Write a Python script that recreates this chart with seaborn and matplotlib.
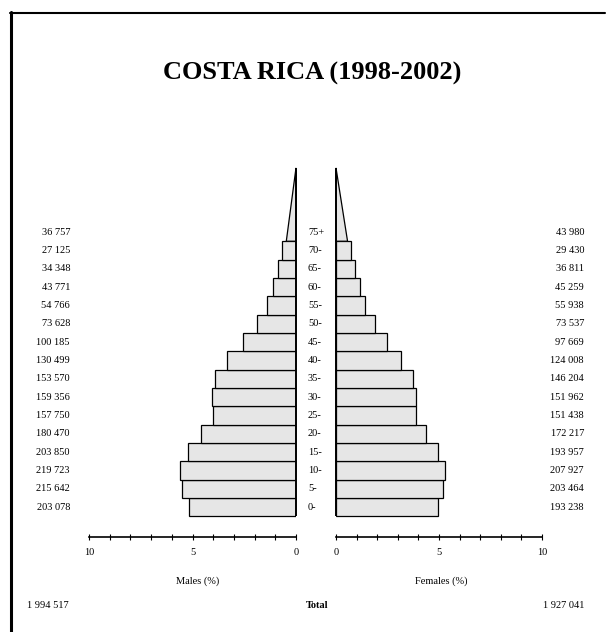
import matplotlib
matplotlib.use("Agg")
import matplotlib.pyplot as plt
import matplotlib.transforms as mtransforms
from matplotlib.lines import Line2D
import seaborn as sns
import numpy as np
import pandas as pd

# ---------------- data ----------------
age_groups = ["0-", "5-", "10-", "15-", "20-", "25-", "30-", "35-", "40-",
              "45-", "50-", "55-", "60-", "65-", "70-", "75+"]
males = [203078, 215642, 219723, 203850, 180470, 157750, 159356, 153570,
         130499, 100185, 73628, 54766, 43771, 34348, 27125, 36757]
females = [193238, 203464, 207927, 193957, 172217, 151438, 151962, 146204,
           124008, 97669, 73537, 55938, 45259, 36811, 29430, 43980]
male_label = ["203 078", "215 642", "219 723", "203 850", "180 470", "157 750",
              "159 356", "153 570", "130 499", "100 185", "73 628", "54 766",
              "43 771", "34 348", "27 125", "36 757"]
female_label = ["193 238", "203 464", "207 927", "193 957", "172 217", "151 438",
                "151 962", "146 204", "124 008", "97 669", "73 537", "55 938",
                "45 259", "36 811", "29 430", "43 980"]
total_males_label = "1 994 517"
total_females_label = "1 927 041"
title = "COSTA RICA (1998-2002)"
x_ticks = [0, 1, 2, 3, 4, 5, 6, 7, 8, 9, 10]
x_ticklabels = ["0", "", "", "", "", "5", "", "", "", "", "10"]

# ---------------- derived ----------------
grand_total = sum(males) + sum(females)
rows = list(range(len(age_groups)))
df = pd.DataFrame({
    "row": rows,
    "age": age_groups,
    "male_pct": [m / grand_total * 100 for m in males],
    "female_pct": [f / grand_total * 100 for f in females],
})
bars = df.iloc[:-1]
last = df.iloc[-1]

sns.set_theme(style="white")
plt.rcParams["font.family"] = ["Liberation Serif", "DejaVu Serif"]
plt.rcParams["text.color"] = "black"
plt.rcParams["xtick.color"] = "black"

W, H = 606, 632
fig = plt.figure(figsize=(W / 100, H / 100), dpi=100)
fig.patch.set_facecolor("white")

def fx(px):
    return px / W

def fy(py):
    return (H - py) / H

ax_bottom_px, ax_top_px = 537, 160
row0_px, row_step = 507, 18.33
ylim = (-(ax_bottom_px - row0_px) / row_step, (row0_px - ax_top_px) / row_step)

ax_m = fig.add_axes([fx(89), fy(ax_bottom_px), fx(296) - fx(89), fy(ax_top_px) - fy(ax_bottom_px)])
ax_f = fig.add_axes([fx(336), fy(ax_bottom_px), fx(542) - fx(336), fy(ax_top_px) - fy(ax_bottom_px)])

fill_c = "#e6e6e6"
for ax, col in ((ax_m, "male_pct"), (ax_f, "female_pct")):
    sns.barplot(data=bars, x=col, y="row", orient="y", native_scale=True,
                width=1.0, color=fill_c, saturation=1, edgecolor="black",
                linewidth=0.9, ax=ax)
    # open-ended top group drawn as a triangle of equal area
    p = last[col]
    base = p * 2 / 4.0
    y0 = last["row"] - 0.5
    ax.fill([0, base, 0], [y0, y0, y0 + 4.0], facecolor=fill_c, edgecolor="black",
            linewidth=0.9, clip_on=False)
    ax.plot([0, 0], [-0.5, y0 + 4.0], color="black", linewidth=1.4,
            solid_capstyle="butt", clip_on=False)
    ax.set_ylim(*ylim)
    ax.set_facecolor("none")
    ax.set_xticks(x_ticks)
    ax.set_xticklabels(x_ticklabels)
    ax.tick_params(axis="x", direction="inout", length=4.5, width=0.8, pad=6,
                   labelsize=7.5, colors="black", bottom=True)
    ax.set_yticks([])
    ax.set_xlabel("")
    ax.set_ylabel("")
    for s in ("top", "left", "right"):
        ax.spines[s].set_visible(False)
    ax.spines["bottom"].set_visible(True)
    ax.spines["bottom"].set_color("black")
    ax.spines["bottom"].set_linewidth(1.2)

ax_m.set_xlim(10, 0)
ax_f.set_xlim(0, 10)

# side labels
tr = mtransforms.blended_transform_factory(fig.transFigure, ax_m.transData)
for r, ml, fl, a in zip(rows, male_label, female_label, age_groups):
    ax_m.text(fx(70), r, ml, transform=tr, ha="right", va="center", fontsize=7.5, color="black")
    ax_m.text(fx(584), r, fl, transform=tr, ha="right", va="center", fontsize=7.5, color="black")
    ax_m.text(fx(308), r, a, transform=tr, ha="left", va="center", fontsize=7.5, color="black",
              clip_on=False)

fig.text(fx(198), fy(581), "Males (%)", ha="center", va="center", fontsize=7.5, color="black")
fig.text(fx(441), fy(581), "Females (%)", ha="center", va="center", fontsize=7.5, color="black")
fig.text(fx(69), fy(606), total_males_label, ha="right", va="center", fontsize=7.5, color="black")
fig.text(fx(317), fy(606), "Total", ha="center", va="center", fontsize=7.5, fontweight="bold",
         color="black")
fig.text(fx(584), fy(606), total_females_label, ha="right", va="center", fontsize=7.5, color="black")

fig.text(fx(312), fy(80), title, ha="center", va="baseline", fontsize=19, fontweight="bold",
         color="black")

# frame lines (top and left)
fig.add_artist(Line2D([fx(10), fx(605)], [fy(12.5), fy(12.5)], transform=fig.transFigure,
                      color="black", linewidth=1.5))
fig.add_artist(Line2D([fx(11), fx(11)], [fy(12), fy(632)], transform=fig.transFigure,
                      color="black", linewidth=2.2))

fig.savefig("out.png", dpi=100, facecolor="white")
